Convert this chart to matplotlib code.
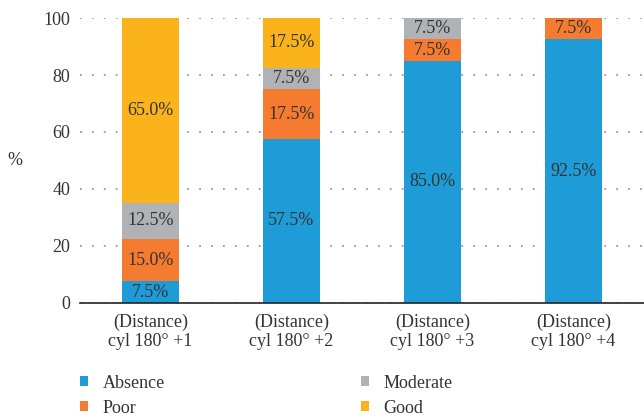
import matplotlib.pyplot as plt
import numpy as np

plt.rcParams['font.family'] = ['Liberation Serif', 'DejaVu Serif']

categories = ["(Distance)\ncyl 180° +1", "(Distance)\ncyl 180° +2",
              "(Distance)\ncyl 180° +3", "(Distance)\ncyl 180° +4"]
series_names = ["Absence", "Poor", "Moderate", "Good"]
absence = [7.5, 57.5, 85.0, 92.5]
poor = [15.0, 17.5, 7.5, 7.5]
moderate = [12.5, 7.5, 7.5, 0.0]
good = [65.0, 17.5, 0.0, 0.0]
colors = ['#1e9cd7', '#f47b30', '#b1b2b6', '#fbb31b']
text_color = '#333333'

fig = plt.figure(figsize=(6.44, 4.2), dpi=100)
ax = fig.add_axes([0.124, 0.279, 0.876, 0.678])

ind = np.arange(len(categories))
width = 0.4
bottom = np.zeros(len(categories))
handles = []
for name, vals, col in zip(series_names, [absence, poor, moderate, good], colors):
    vals = np.array(vals)
    h = ax.bar(ind, vals, width, bottom=bottom, color=col, label=name, zorder=3)
    handles.append(h)
    for i, v in enumerate(vals):
        if v > 0:
            ax.text(ind[i], bottom[i] + v / 2, "%.1f%%" % v, ha='center',
                    va='center', fontsize=13, color=text_color, zorder=4)
    bottom += vals

ax.set_xlim(-0.5, 3.5)
ax.set_ylim(0, 100)
ax.set_yticks([0, 20, 40, 60, 80, 100])
ax.set_xticks(ind)
ax.set_xticklabels(categories, fontsize=13, color=text_color, linespacing=1.15)
ax.tick_params(axis='y', length=0, labelsize=13, labelcolor=text_color, pad=7)
ax.tick_params(axis='x', length=0, pad=8)
ax.yaxis.grid(True, linestyle=(0, (1, 5.6)), color='#999999', linewidth=1.3, zorder=0)
for s in ['left', 'right', 'top']:
    ax.spines[s].set_visible(False)
ax.spines['bottom'].set_color('#222222')
ax.spines['bottom'].set_linewidth(1.2)
ax.spines['bottom'].set_zorder(5)

ax.set_ylabel('%', rotation=0, fontsize=13, color=text_color)
ax.yaxis.set_label_coords(-0.115, 0.47)

fig.legend(handles=handles, labels=series_names, ncol=2, loc='upper left',
           bbox_to_anchor=(0.124, 0.108), frameon=False, fontsize=13,
           borderpad=0, borderaxespad=0,
           handlelength=0.45, handleheight=0.45, handletextpad=0.8,
           columnspacing=10.85, labelspacing=0.45, labelcolor=text_color)

fig.savefig('out.png', dpi=100)
